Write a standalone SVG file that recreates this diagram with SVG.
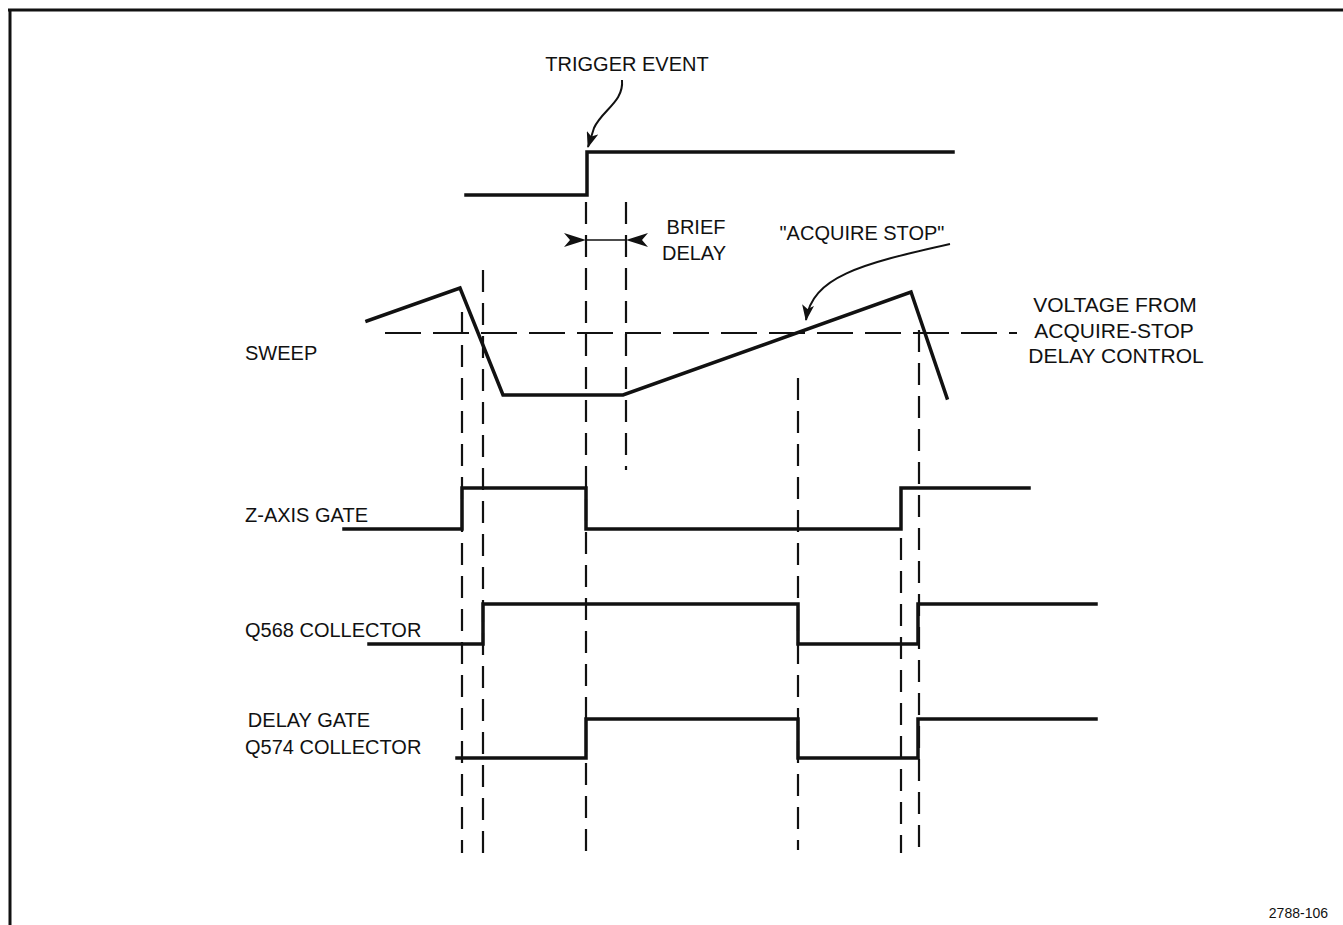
<svg xmlns="http://www.w3.org/2000/svg" width="1343" height="925" viewBox="0 0 1343 925">
<defs>
<style>
.sig{fill:none;stroke:#111;stroke-width:3.5;stroke-linejoin:miter;stroke-linecap:square}
.vd{fill:none;stroke:#111;stroke-width:2.2;stroke-dasharray:22 11}
.hd{fill:none;stroke:#111;stroke-width:2.2;stroke-dasharray:36 12}
.lab{font-family:"Liberation Sans",Arial,sans-serif;font-size:20px;fill:#111}
.big{font-size:21px}
.thin{fill:none;stroke:#111;stroke-width:2}
</style>
<marker id="ah" viewBox="0 0 16 12" refX="15" refY="6" markerWidth="16" markerHeight="12" markerUnits="userSpaceOnUse" orient="auto">
<path d="M0,0 L16,6 L0,12 L4,6 Z" fill="#111"/>
</marker>
</defs>
<rect width="1343" height="925" fill="#fff"/>
<g id="frame">
<path d="M8,10 H1343 M10,10 V925" fill="none" stroke="#111" stroke-width="3"/>
</g>
<g id="connectors">
<line class="vd" x1="462" y1="312" x2="462" y2="853"/>
<line class="vd" x1="483" y1="270" x2="483" y2="853"/>
<line class="vd" x1="586" y1="202" x2="586" y2="851"/>
<line class="vd" x1="626" y1="202" x2="626" y2="470"/>
<line class="vd" x1="798" y1="378" x2="798" y2="850"/>
<line class="vd" x1="901" y1="538" x2="901" y2="853"/>
<line class="vd" x1="919" y1="330" x2="919" y2="853"/>
<line class="hd" x1="385" y1="333" x2="1017" y2="333"/>
<path class="thin" d="M622,80 C624,102 602,110 594,128 L588,147" marker-end="url(#ah)"/>
<path class="thin" d="M950,244 C860,264 812,277 806,320" marker-end="url(#ah)"/>
<line x1="586" y1="240" x2="626" y2="240" stroke="#111" stroke-width="1.5"/>
<path d="M586,240 L564,233 L570,240 L564,247 Z" fill="#111"/>
<path d="M626,240 L648,233 L642,240 L648,247 Z" fill="#111"/>
</g>
<g id="trigger">
<polyline class="sig" points="466,195 587,195 587,152 953,152"/>
<text class="lab" x="627" y="71" text-anchor="middle">TRIGGER EVENT</text>
</g>
<g id="brief-delay">
<text class="lab" x="696" y="234" text-anchor="middle">BRIEF</text>
<text class="lab" x="694" y="260" text-anchor="middle">DELAY</text>
</g>
<g id="acquire-stop">
<text class="lab" x="862" y="240" text-anchor="middle">"ACQUIRE STOP"</text>
</g>
<g id="sweep">
<polyline class="sig" points="367,321 460,288 503,395 623,395 911,292 947,398" stroke-width="4"/>
<text class="lab" x="245" y="360">SWEEP</text>
</g>
<g id="voltage">
<text class="lab big" x="1115" y="312" text-anchor="middle">VOLTAGE FROM</text>
<text class="lab big" x="1114" y="338" text-anchor="middle">ACQUIRE-STOP</text>
<text class="lab big" x="1116" y="363" text-anchor="middle">DELAY CONTROL</text>
</g>
<g id="zaxis">
<polyline class="sig" points="344,529 462,529 462,488 586,488 586,529 901,529 901,488 1029,488"/>
<text class="lab" x="245" y="522">Z-AXIS GATE</text>
</g>
<g id="q568">
<polyline class="sig" points="369,644 483,644 483,604 798,604 798,644 918,644 918,604 1096,604"/>
<text class="lab" x="245" y="637">Q568 COLLECTOR</text>
</g>
<g id="delaygate">
<polyline class="sig" points="457,758 586,758 586,719 798,719 798,758 918,758 918,719 1096,719"/>
<text class="lab" x="309" y="727" text-anchor="middle">DELAY GATE</text>
<text class="lab" x="245" y="754">Q574 COLLECTOR</text>
</g>
<g id="fignum">
<text x="1328" y="918" text-anchor="end" style="font-family:'Liberation Sans',Arial,sans-serif;font-size:14px;fill:#111">2788-106</text>
</g>
</svg>
